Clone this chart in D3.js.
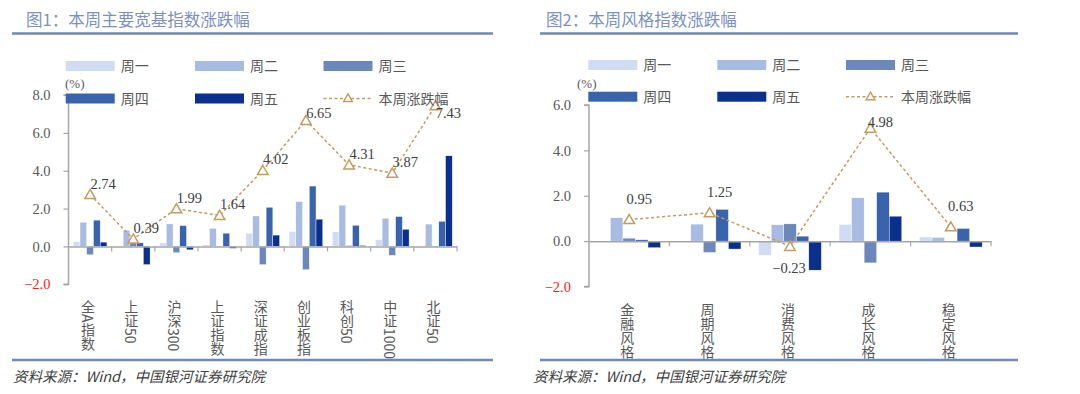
<!DOCTYPE html>
<html>
<head>
<meta charset="utf-8">
<script src="https://cdn.jsdelivr.net/npm/d3@7"></script>
<style>
  body { margin: 0; background: #fff; }
  svg { display: block; }
  text { font-family: "Liberation Serif", "Noto Sans CJK SC", serif; }
  .cjk { font-family: "Noto Sans CJK SC", sans-serif; }
</style>
</head>
<body>
<svg id="chart" width="1080" height="394"></svg>
<script>
// legend / series names
var days = ['周一', '周二', '周三', '周四', '周五'];
var lineName = '本周涨跌幅';

// chart 1: broad indices
var broadCats = ['全A指数', '上证50', '沪深300', '上证指数', '深证成指', '创业板指', '科创50', '中证1000', '北证50'];
var broadMon = [0.25, 0.02, 0.19, 0.08, 0.70, 0.79, 0.77, 0.35, -0.02];
var broadTue = [1.28, 0.86, 1.19, 0.96, 1.61, 2.37, 2.18, 1.49, 1.18];
var broadWed = [-0.44, 0.25, -0.33, 0.02, -0.96, -1.23, 0.05, -0.47, -0.03];
var broadThu = [1.39, 0.19, 1.10, 0.70, 2.07, 3.19, 1.12, 1.58, 1.33];
var broadFri = [0.23, -0.96, -0.18, -0.10, 0.60, 1.44, 0.05, 0.91, 4.79];
var broadWeek = [2.74, 0.39, 1.99, 1.64, 4.02, 6.65, 4.31, 3.87, 7.43];
var broadTicks = [-2, 0, 2, 4, 6, 8];

// chart 2: style indices
var styleCats = ['金融风格', '周期风格', '消费风格', '成长风格', '稳定风格'];
var styleMon = [0.00, 0.00, -0.62, 0.74, 0.18];
var styleTue = [1.03, 0.75, 0.72, 1.91, 0.16];
var styleWed = [0.13, -0.50, 0.76, -0.96, 0.00];
var styleThu = [0.06, 1.40, 0.22, 2.16, 0.56];
var styleFri = [-0.29, -0.35, -1.28, 1.10, -0.26];
var styleWeek = [0.95, 1.25, -0.23, 4.98, 0.63];
var styleTicks = [-2, 0, 2, 4, 6];

var colors = ['#D0DCF1', '#A8BCE3', '#6C87B9', '#3A63AE', '#0B2F8C'];
var lineColor = '#C49B62';
var axisColor = '#A6A6A6';
var textColor = '#595959';
var headColor = '#7B91C3';
var ruleColor = '#6F88B9';

var svg = d3.select('#chart');
svg.append('rect').attr('width', 1080).attr('height', 394).attr('fill', '#fff');

function drawPanel(o) {
  var g = svg.append('g');

  // title + rules + source
  g.append('text').attr('class', 'cjk')
    .attr('x', o.titleX).attr('y', 26)
    .attr('font-size', 16.5).attr('fill', headColor)
    .text(o.title);
  g.append('line').attr('x1', o.ruleX1).attr('x2', o.ruleX2).attr('y1', 33.5).attr('y2', 33.5)
    .attr('stroke', ruleColor).attr('stroke-width', 2.5);
  g.append('line').attr('x1', o.ruleX1).attr('x2', o.ruleX2).attr('y1', 360).attr('y2', 360)
    .attr('stroke', ruleColor).attr('stroke-width', 2.5);
  g.append('text').attr('class', 'cjk')
    .attr('x', o.srcX).attr('y', 382)
    .attr('font-size', 14.5).attr('font-style', 'italic').attr('fill', '#404040')
    .text('资料来源：Wind，中国银河证券研究院');

  var x = d3.scaleBand().domain(o.cats).range([o.x0, o.x1]);
  var pad = x.bandwidth() * 0.11;
  var xs = d3.scaleBand().domain(days).range([pad, x.bandwidth() - pad]);
  var y = d3.scaleLinear().domain([o.ticks[0], o.ticks[o.ticks.length - 1]]).range([o.yBot, o.yTop]);

  var rows = o.cats.map(function(c, i) {
    return { cat: c, vals: o.series.map(function(s) { return s[i]; }), week: o.week[i] };
  });

  // bars
  var grp = g.selectAll('.grp').data(rows).enter().append('g')
    .attr('transform', function(d) { return 'translate(' + x(d.cat) + ',0)'; });
  grp.selectAll('rect').data(function(d) { return d.vals; }).enter().append('rect')
    .attr('x', function(v, j) { return xs(days[j]); })
    .attr('width', xs.bandwidth())
    .attr('y', function(v) { return y(Math.max(0, v)); })
    .attr('height', function(v) { return Math.abs(y(v) - y(0)); })
    .attr('fill', function(v, j) { return colors[j]; })
    .attr('stroke', '#fff').attr('stroke-width', 0.4);

  // y axis
  var yAxis = d3.axisLeft(y).tickValues(o.ticks).tickSize(5).tickFormat(d3.format('.1f'));
  var ya = g.append('g').attr('transform', 'translate(' + o.x0 + ',0)').call(yAxis);
  ya.select('.domain').attr('stroke', axisColor).attr('stroke-width', 1.5)
    .attr('d', 'M-5,' + y.range()[1] + 'H0V' + y.range()[0] + 'H-5');
  ya.selectAll('.tick line').attr('stroke', axisColor).attr('stroke-width', 1.2);
  ya.selectAll('.tick text')
    .attr('x', -18).attr('font-size', 14.5)
    .attr('font-family', '"Liberation Serif", serif')
    .attr('fill', function(d) { return d < 0 ? '#FF2020' : textColor; });

  // x axis at zero
  var xAxis = d3.axisBottom(x).tickSize(0).tickFormat('');
  var xa = g.append('g').attr('transform', 'translate(0,' + y(0) + ')').call(xAxis);
  xa.select('.domain').attr('stroke', axisColor).attr('stroke-width', 1.5);
  xa.selectAll('.sep').data(o.cats).enter().append('line')
    .attr('x1', function(c) { return x(c) + x.bandwidth(); })
    .attr('x2', function(c) { return x(c) + x.bandwidth(); })
    .attr('y1', 0).attr('y2', 5)
    .attr('stroke', axisColor).attr('stroke-width', 1.2);

  // category labels, stacked vertically
  g.selectAll('.cat').data(o.cats).enter().append('text')
    .attr('class', 'cjk')
    .attr('x', function(c) { return x(c) + x.bandwidth() / 2 - 2; })
    .attr('y', o.catY)
    .attr('font-size', 14).attr('fill', textColor)
    .style('writing-mode', 'vertical-rl')
    .text(function(c) { return c; });

  // weekly line
  var cx = function(d) { return x(d.cat) + x.bandwidth() / 2; };
  var line = d3.line().x(cx).y(function(d) { return y(d.week); });
  g.append('path').datum(rows).attr('d', line)
    .attr('fill', 'none').attr('stroke', lineColor).attr('stroke-width', 1.5)
    .attr('stroke-dasharray', '3,2.5');
  var tri = d3.symbol().type(d3.symbolTriangle).size(48);
  g.selectAll('.mk').data(rows).enter().append('path')
    .attr('d', tri)
    .attr('transform', function(d) { return 'translate(' + cx(d) + ',' + (y(d.week) + 1) + ')'; })
    .attr('fill', '#fff').attr('stroke', lineColor).attr('stroke-width', 1.5);
  // labels sit above the point, but never closer to the plot top than topGap
  g.selectAll('.lbl').data(rows).enter().append('text')
    .attr('x', function(d) { return cx(d) + (d.week < 0 ? o.belowDx : o.dx); })
    .attr('y', function(d) {
      if (d.week < 0) return y(d.week) + o.belowDy;
      return Math.max(y(d.week) + o.dy, o.yTop + o.topGap);
    })
    .attr('text-anchor', 'middle')
    .attr('font-size', 14.5).attr('fill', '#404040')
    .text(function(d) { return d3.format('.2f')(d.week); });

  // (%) unit
  g.append('text').attr('x', o.unitX).attr('y', 88)
    .attr('font-size', 13).attr('fill', textColor).text('(%)');

  // legend
  var items = days.concat([lineName]);
  var lg = g.selectAll('.lg').data(items).enter().append('g')
    .attr('transform', function(d, i) {
      return 'translate(' + o.legX[i % 3] + ',' + o.legY[Math.floor(i / 3)] + ')';
    });
  lg.each(function(d, i) {
    var s = d3.select(this);
    if (i < 5) {
      s.append('rect').attr('x', 0).attr('y', -5).attr('width', 49).attr('height', 10)
        .attr('fill', colors[i]);
    } else {
      s.append('line').attr('x1', 0).attr('x2', 49).attr('y1', 0).attr('y2', 0)
        .attr('stroke', lineColor).attr('stroke-width', 1.5).attr('stroke-dasharray', '3,2.5');
      s.append('path').attr('d', d3.symbol().type(d3.symbolTriangle).size(34))
        .attr('transform', 'translate(24.5,0.5)')
        .attr('fill', '#fff').attr('stroke', lineColor).attr('stroke-width', 1.4);
    }
    s.append('text').attr('class', 'cjk').attr('x', 55).attr('y', 5)
      .attr('font-size', 14).attr('fill', textColor).text(d);
  });
}

drawPanel({
  title: '图1：本周主要宽基指数涨跌幅',
  titleX: 26, ruleX1: 12, ruleX2: 493, srcX: 13,
  cats: broadCats,
  series: [broadMon, broadTue, broadWed, broadThu, broadFri],
  week: broadWeek, ticks: broadTicks,
  x0: 68.5, x1: 457, yTop: 95, yBot: 284.3,
  catY: 300,
  dx: 13, dy: -6, topGap: 23, belowDx: 0, belowDy: 26,
  unitX: 65,
  legX: [65.7, 195, 323.5], legY: [66, 98.5]
});

drawPanel({
  title: '图2：本周风格指数涨跌幅',
  titleX: 546, ruleX1: 540, ruleX2: 1018, srcX: 533,
  cats: styleCats,
  series: [styleMon, styleTue, styleWed, styleThu, styleFri],
  week: styleWeek, ticks: styleTicks,
  x0: 589, x1: 991, yTop: 105, yBot: 286.5,
  catY: 303,
  dx: 10, dy: -16, topGap: 22, belowDx: -1, belowDy: 27,
  unitX: 577,
  legX: [588.3, 717.3, 846], legY: [65, 96.7]
});
</script>
</body>
</html>
